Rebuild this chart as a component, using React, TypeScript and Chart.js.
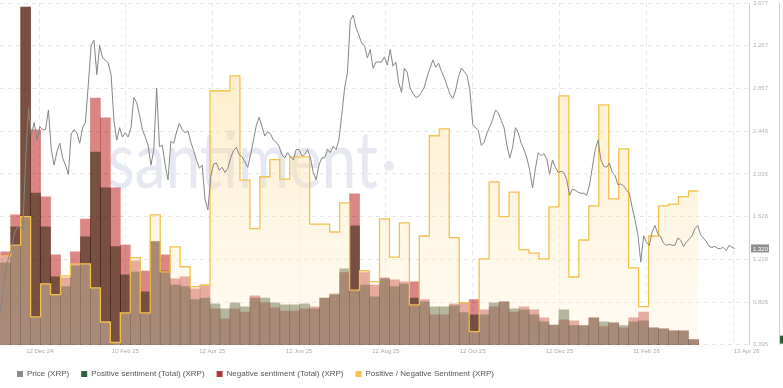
import { useEffect, useRef } from "react";
import { Chart, registerables } from "chart.js";

Chart.register(...registerables);

// ---------- data ----------
const REF_DATE = "2024-12-12";
const X_MIN_DATE = "2024-11-14";
const X_MAX_DATE = "2026-04-24";

// price samples (every 2 days) starting at PRICE_START
const PRICE_START = "2024-11-14";
const PRICE_STEP_DAYS = 2;
const priceXRP = [
  0.70, 0.90, 1.11, 1.23, 1.31, 1.46, 1.52, 1.53, 1.50, 2.17,
  2.67, 2.41, 2.53, 2.36, 2.49, 2.46, 2.46, 2.65, 2.27, 2.12,
  2.25, 2.33, 2.19, 2.12, 2.03, 2.42, 2.46, 2.43, 2.33, 2.48,
  2.53, 2.89, 3.27, 3.32, 2.99, 3.27, 3.15, 3.13, 3.10, 2.99,
  2.55, 2.36, 2.48, 2.39, 2.43, 2.39, 2.48, 2.77, 2.72, 2.60,
  2.46, 2.39, 2.31, 2.12, 2.27, 2.86, 2.30, 2.31, 2.12, 1.98,
  2.35, 2.33, 2.44, 2.52, 2.46, 2.43, 2.45, 2.34, 2.26, 2.17,
  2.09, 2.12, 1.79, 1.69, 2.01, 2.13, 2.14, 2.07, 2.10, 2.05,
  2.09, 2.19, 2.26, 2.29, 2.22, 2.20, 2.15, 2.10, 2.22, 2.36,
  2.50, 2.58, 2.49, 2.40, 2.44, 2.42, 2.36, 2.34, 2.30, 2.22,
  2.19, 2.24, 2.20, 2.17, 2.27, 2.27, 2.21, 2.22, 2.27, 2.19,
  2.05, 1.98, 2.12, 2.19, 2.19, 2.27, 2.24, 2.30, 2.27, 2.36,
  2.60, 2.86, 3.01, 3.51, 3.56, 3.44, 3.37, 3.29, 3.27, 3.15,
  3.23, 3.05, 3.11, 3.11, 3.11, 3.16, 3.08, 3.23, 3.07, 3.11,
  2.91, 2.82, 3.05, 3.01, 2.86, 2.81, 2.77, 2.78, 2.82, 2.87,
  2.97, 3.05, 3.13, 3.06, 3.10, 3.02, 2.96, 2.88, 2.80, 2.76,
  2.84, 2.97, 3.05, 3.02, 2.98, 2.84, 2.51, 2.48, 2.45, 2.31,
  2.34, 2.43, 2.49, 2.56, 2.65, 2.62, 2.55, 2.48, 2.31, 2.19,
  2.29, 2.48, 2.43, 2.33, 2.27, 2.19, 2.07, 1.90, 2.09, 2.24,
  2.21, 2.23, 2.18, 2.03, 2.17, 2.10, 2.05, 2.06, 2.05, 1.98,
  1.83, 1.89, 1.88, 1.86, 1.85, 1.85, 1.83, 1.93, 2.10, 2.27,
  2.36, 2.17, 2.11, 2.10, 2.14, 2.05, 2.02, 1.93, 1.94, 1.92,
  1.88, 1.85, 1.71, 1.59, 1.45, 1.19, 1.44, 1.38, 1.35, 1.48,
  1.54, 1.46, 1.43, 1.37, 1.35, 1.36, 1.35, 1.35, 1.42, 1.40,
  1.34, 1.38, 1.41, 1.44, 1.51, 1.54, 1.45, 1.42, 1.39, 1.34,
  1.33, 1.34, 1.32, 1.32, 1.33, 1.30, 1.35, 1.33, 1.32,
];

// weekly sentiment series, WEEK_START is the centre of the first weekly bar
const WEEK_START = "2024-11-18";
const WEEK_STEP_DAYS = 7;
const positiveSentiment = [
  24.0, 34.5, 98.8, 44.4, 34.5, 19.9, 17.0, 23.1, 31.6, 56.4,
  45.9, 28.7, 20.5, 21.3, 15.5, 30.2, 21.6, 17.5, 17.0, 13.2,
  13.7, 12.0, 10.5, 12.3, 11.1, 13.7, 13.7, 12.3, 11.7, 11.7,
  12.0, 10.5, 13.7, 14.6, 22.2, 34.8, 17.5, 14.0, 19.3, 17.0,
  17.8, 13.7, 12.6, 11.1, 11.1, 11.4, 9.4, 8.8, 8.8, 12.3,
  12.6, 10.5, 10.2, 8.8, 6.7, 5.8, 10.2, 5.6, 5.6, 7.9,
  6.7, 6.4, 5.6, 6.7, 7.0, 5.0, 4.7, 4.1, 4.1, 1.5,
];
const negativeSentiment = [
  27.2, 38.0, 98.8, 62.9, 43.3, 26.3, 19.6, 27.2, 36.8, 72.2,
  66.4, 45.9, 29.2, 24.6, 21.6, 30.2, 26.3, 19.3, 19.9, 16.4,
  17.3, 10.5, 7.6, 10.5, 9.6, 14.3, 12.3, 10.8, 9.9, 9.9,
  10.5, 11.1, 13.7, 14.9, 21.1, 44.2, 21.1, 17.5, 19.6, 19.0,
  18.4, 18.4, 13.2, 8.8, 8.8, 12.0, 12.3, 13.2, 10.2, 11.1,
  12.6, 9.6, 11.1, 10.2, 7.9, 5.8, 7.3, 7.0, 5.6, 7.9,
  5.3, 6.4, 5.0, 7.9, 9.6, 5.0, 4.7, 4.1, 4.1, 1.5,
];
const sentimentRatio = [
  1.56, 1.75, 2.25, 0.49, 1.07, 0.88, 1.21, 1.42, 1.42, 1.00,
  0.40, 0.04, 0.56, 1.53, 0.56, 2.28, 1.28, 1.72, 1.37, 1.02,
  1.05, 4.46, 4.46, 4.72, 2.89, 2.04, 2.95, 3.25, 2.91, 3.30,
  3.30, 2.12, 2.12, 1.98, 2.49, 0.96, 1.30, 1.11, 2.21, 1.54,
  2.14, 0.70, 1.91, 3.67, 3.79, 1.88, 0.74, 0.23, 1.51, 2.86,
  2.25, 2.68, 1.67, 1.61, 1.51, 2.42, 4.37, 1.19, 1.84, 2.44,
  4.21, 2.56, 3.44, 1.35, 0.67, 1.91, 2.44, 2.47, 2.60, 2.70,
];

const xTickDates = [
  "2024-12-12", "2025-02-10", "2025-04-12", "2025-06-12", "2025-08-12",
  "2025-10-12", "2025-12-12", "2026-02-11", "2026-04-13",
];
const xTickLabels = [
  "12 Dec 24", "10 Feb 25", "12 Apr 25", "12 Jun 25", "12 Aug 25",
  "12 Oct 25", "12 Dec 25", "11 Feb 26", "13 Apr 26",
];
const priceTicks = [0.395, 0.805, 1.216, 1.626, 2.036, 2.446, 2.857, 3.267, 3.677];

const seriesLabels = [
  "Price (XRP)",
  "Positive sentiment (Total) (XRP)",
  "Negative sentiment (Total) (XRP)",
  "Positive / Negative Sentiment (XRP)",
];
const legendColors = ["#8c8c8c", "#2f5e3b", "#b23a3a", "#f2c14e"];

// ---------- helpers ----------
const DAY_MS = 86400000;
const dayOf = (iso: string) =>
  Math.round((Date.parse(iso + "T00:00:00Z") - Date.parse(REF_DATE + "T00:00:00Z")) / DAY_MS);

const FONT = "'Liberation Sans', Arial, sans-serif";

const multiplyBars = {
  id: "multiplyBars",
  beforeDatasetDraw(chart: any, args: any) {
    if (chart.data.datasets[args.index].type === "bar") {
      chart.ctx.save();
      chart.ctx.globalCompositeOperation = "multiply";
    }
  },
  afterDatasetDraw(chart: any, args: any) {
    if (chart.data.datasets[args.index].type === "bar") chart.ctx.restore();
  },
};

const watermark = {
  id: "watermark",
  beforeDatasetsDraw(chart: any) {
    const ctx = chart.ctx;
    ctx.save();
    ctx.font = `400 80px Lato, ${FONT}`;
    ctx.fillStyle = "#e5e7f1";
    ctx.textBaseline = "alphabetic";
    const w = ctx.measureText("santiment").width;
    const target = 270;
    ctx.translate(108, 188);
    ctx.scale(target / w, 1);
    ctx.fillText("santiment", 0, 0);
    ctx.restore();
    ctx.save();
    ctx.fillStyle = "#e5e7f1";
    ctx.beginPath();
    ctx.arc(389, 166, 5, 0, Math.PI * 2);
    ctx.fill();
    ctx.restore();
  },
};

const legendShift = {
  id: "legendShift",
  afterLayout(chart: any) {
    if (chart.legend) chart.legend.left = 5;
  },
};

const valueTags = {
  id: "valueTags",
  afterDraw(chart: any) {
    const ctx = chart.ctx;
    const ps = chart.scales.price;
    const last = priceXRP[priceXRP.length - 1];
    const y = ps.getPixelForValue(last);
    ctx.save();
    ctx.fillStyle = "#8e8e8e";
    ctx.fillRect(ps.left + 2, y - 4, 18, 8);
    ctx.fillStyle = "#ffffff";
    ctx.font = `6px ${FONT}`;
    ctx.textBaseline = "middle";
    ctx.textAlign = "left";
    ctx.fillText(last.toFixed(3), ps.left + 4, y + 0.5);
    const ss = chart.scales.sentiment;
    const lp = positiveSentiment[positiveSentiment.length - 1];
    const yp = ss.getPixelForValue(lp);
    ctx.fillStyle = legendColors[1];
    ctx.fillRect(ss.left + 1, yp - 4, 3, 8);
    ctx.restore();
  },
};

export default function App() {
  const ref = useRef<HTMLCanvasElement | null>(null);

  useEffect(() => {
    document.body.style.margin = "0";
    const canvas = ref.current;
    if (!canvas) return;

    const weekStart = dayOf(WEEK_START);
    const priceStart = dayOf(PRICE_START);
    const pricePts = priceXRP.map((v, i) => ({ x: priceStart + i * PRICE_STEP_DAYS, y: v }));
    const posPts = positiveSentiment.map((v, i) => ({ x: weekStart + i * WEEK_STEP_DAYS, y: v }));
    const negPts = negativeSentiment.map((v, i) => ({ x: weekStart + i * WEEK_STEP_DAYS, y: v }));
    const ratioPts = sentimentRatio.map((v, i) => ({ x: weekStart + i * WEEK_STEP_DAYS - WEEK_STEP_DAYS / 2, y: v }));
    ratioPts.push({
      x: weekStart + (sentimentRatio.length - 1) * WEEK_STEP_DAYS + WEEK_STEP_DAYS / 2,
      y: sentimentRatio[sentimentRatio.length - 1],
    });

    const tickDays = xTickDates.map(dayOf);
    const LAST_PAD = "                ";

    Chart.defaults.font.family = FONT;

    const chart = new Chart(canvas, {
      data: {
        datasets: [
          {
            type: "line",
            label: seriesLabels[0],
            data: pricePts,
            yAxisID: "price",
            borderColor: "#858585",
            backgroundColor: "#858585",
            borderWidth: 1,
            pointRadius: 0,
            tension: 0,
            fill: false,
            order: 0,
          },
          {
            type: "bar",
            label: seriesLabels[1],
            data: posPts,
            yAxisID: "sentiment",
            backgroundColor: "rgb(140,151,126)",
            borderWidth: 0,
            barPercentage: 1,
            categoryPercentage: 1,
            grouped: false,
            order: 3,
          },
          {
            type: "bar",
            label: seriesLabels[2],
            data: negPts,
            yAxisID: "sentiment",
            backgroundColor: "rgb(218,134,132)",
            borderWidth: 0,
            barPercentage: 1,
            categoryPercentage: 1,
            grouped: false,
            order: 2,
          },
          {
            type: "line",
            label: seriesLabels[3],
            data: ratioPts,
            yAxisID: "ratioAxis",
            stepped: "before",
            borderColor: "#f3c04c",
            borderWidth: 1.3,
            pointRadius: 0,
            fill: "start",
            backgroundColor: (c: any) => {
              const area = c.chart.chartArea;
              if (!area) return "rgba(255,240,210,0.35)";
              const g = c.chart.ctx.createLinearGradient(0, area.top, 0, area.bottom);
              g.addColorStop(0, "rgba(250,205,105,0.42)");
              g.addColorStop(1, "rgba(255,245,225,0.35)");
              return g;
            },
            order: 1,
          },
        ] as any,
      },
      options: {
        animation: false,
        responsive: false,
        parsing: false as any,
        normalized: true,
        layout: { padding: { top: 3, left: 0, right: 0, bottom: 0 } },
        plugins: {
          tooltip: { enabled: false },
          legend: {
            position: "bottom",
            align: "start",
            labels: {
              boxWidth: 6,
              boxHeight: 6,
              padding: 12,
              font: { size: 8, family: FONT },
              color: "#555555",
              generateLabels: (ch: any) =>
                ch.data.datasets.map((ds: any, i: number) => ({
                  text: ds.label,
                  fillStyle: legendColors[i],
                  strokeStyle: legendColors[i],
                  lineWidth: 0,
                  hidden: false,
                  datasetIndex: i,
                  fontColor: "#555555",
                })),
            },
          },
        },
        scales: {
          x: {
            type: "linear",
            axis: "x",
            offset: false,
            min: dayOf(X_MIN_DATE),
            max: dayOf(X_MAX_DATE),
            afterBuildTicks: (ax: any) => {
              ax.ticks = tickDays.map((v) => ({ value: v }));
            },
            ticks: {
              autoSkip: false,
              maxRotation: 0,
              padding: 3,
              font: { size: 6, family: FONT },
              color: "#a9a9a9",
              callback: (_v: any, i: number) =>
                i === xTickLabels.length - 1 ? LAST_PAD + xTickLabels[i] : xTickLabels[i],
            },
            grid: { color: "#e8e8e8", drawTicks: false, offset: false },
            border: { display: false, dash: [4, 4] },
          },
          price: {
            type: "linear",
            axis: "y",
            position: "right",
            min: priceTicks[0],
            max: priceTicks[priceTicks.length - 1],
            afterBuildTicks: (ax: any) => {
              ax.ticks = priceTicks.map((v) => ({ value: v }));
            },
            afterFit: (ax: any) => {
              ax.width = 30;
              ax.paddingTop = 0;
              ax.paddingBottom = 0;
            },
            ticks: {
              autoSkip: false,
              padding: 4,
              font: { size: 6, family: FONT },
              color: "#b3b3b3",
              callback: (v: any) => Number(v).toFixed(3),
            },
            grid: { color: "#e6e6e6", drawTicks: false },
            border: { display: true, color: "#cccccc", dash: [4, 4] },
          },
          sentiment: {
            type: "linear",
            axis: "y",
            position: "right",
            min: 0,
            max: 100,
            afterFit: (ax: any) => {
              ax.width = 4;
              ax.paddingTop = 0;
              ax.paddingBottom = 0;
            },
            ticks: { display: false },
            grid: { display: false, drawTicks: false },
            border: { display: true, color: "#cccccc" },
          },
          ratioAxis: {
            type: "linear",
            axis: "y",
            position: "left",
            display: false,
            min: 0,
            max: 6,
          },
        },
      } as any,
      plugins: [multiplyBars, watermark, legendShift, valueTags],
    });

    return () => chart.destroy();
  }, []);

  return (
    <div style={{ width: 783, height: 388 }}>
      <canvas ref={ref} width={783} height={388} style={{ display: "block" }} />
    </div>
  );
}
